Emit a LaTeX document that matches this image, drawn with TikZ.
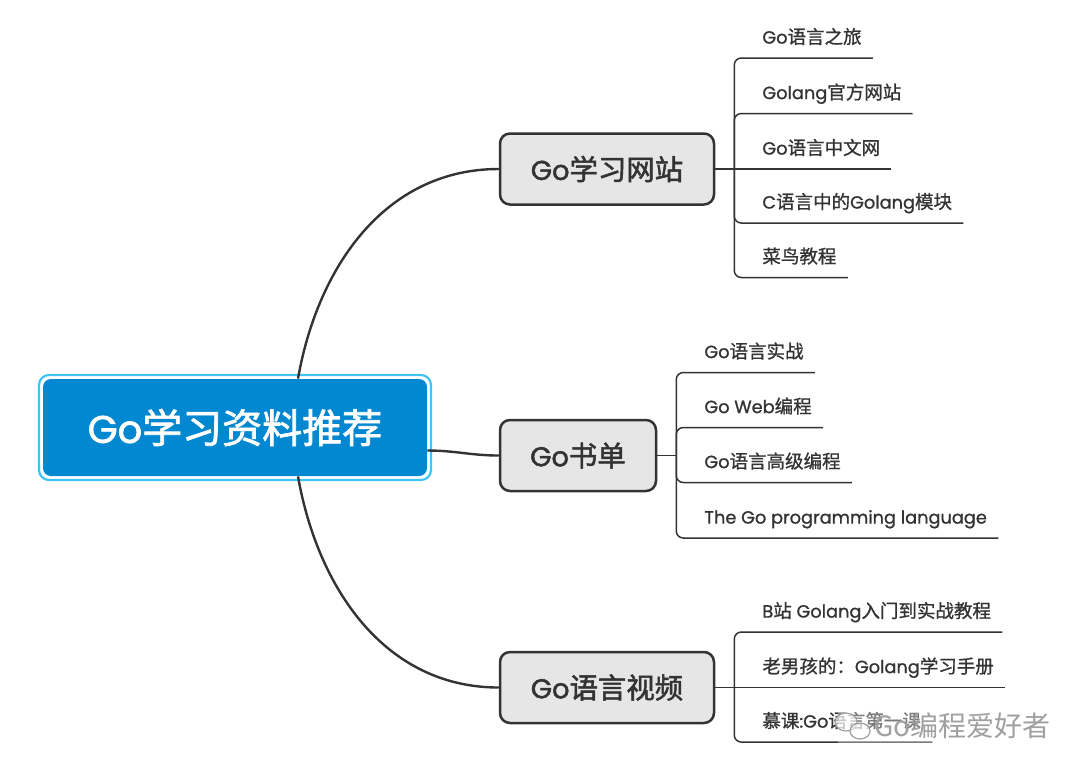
\documentclass[tikz,border=0pt]{standalone}
\usepackage{fontspec}
\setmainfont{Poppins}[Scale=0.96, FakeBold=1.0]
\newfontfamily\cjkfont{Noto Sans CJK SC}[FakeBold=1.0]
\newfontfamily\heavyfont{Poppins}[Scale=0.96, FakeBold=1.8]
\newfontfamily\heavyzh{Noto Sans CJK SC}[FakeBold=1.8]
\newfontfamily\markfont{Noto Sans CJK SC}
\newcommand{\zh}[1]{{\cjkfont #1}}
\newcommand{\heavy}{\heavyfont\let\cjkfont\heavyzh}
\usetikzlibrary{positioning}
\definecolor{rootblue}{HTML}{0288D1}
\definecolor{rootrim}{HTML}{40C4F8}
\definecolor{topicgray}{HTML}{E6E6E6}
\definecolor{inkgray}{HTML}{333333}
\definecolor{markgray}{HTML}{A0A0A0}
\tikzset{
  rootbox/.style={fill=rootblue, text=white, rounded corners=4pt, minimum width=192pt, minimum height=48.5pt, inner xsep=0pt, font=\heavy\fontsize{20}{24}\selectfont},
  topic/.style={fill=topicgray, draw=inkgray, line width=1.25pt, rounded corners=5pt, minimum height=35.5pt, inner xsep=0pt, text=inkgray, font=\heavy\fontsize{14.2}{17}\selectfont},
  leaf/.style={anchor=south west, inner xsep=5.5pt, inner ysep=7pt, text depth=0pt, text=inkgray, font=\fontsize{9.25}{11}\selectfont},
  stem/.style={draw=inkgray, line width=1.2pt},
  twig/.style={draw=inkgray, line width=0.75pt, rounded corners=3.5pt},
}

\begin{document}
\begin{tikzpicture}[x=0.5pt, y=-0.5pt]
  \useasboundingbox (0,0) rectangle (1080,773);

  % main topic
  \node[rootbox] (root) at (235,427.5) {Go\zh{学习资料推荐}};
  \draw[rootrim, line width=1.1pt, rounded corners=5pt] ([shift={(-1.8pt,-1.8pt)}]root.south west) rectangle ([shift={(1.8pt,1.8pt)}]root.north east);

  % sub topics
  \node[topic, minimum width=107pt] (web) at (607,169) {Go\zh{学习网站}};
  \node[topic, minimum width=78pt] (book) at (578,455.5) {Go\zh{书单}};
  \node[topic, minimum width=107pt] (video) at (607,687.5) {Go\zh{语言视频}};

  \draw[stem] ([xshift=31.5pt]root.north) to[out=80, in=180] (web.west);
  \draw[stem] ([yshift=-11.5pt]root.east) to[out=0, in=180] (book.west);
  \draw[stem] ([xshift=31.5pt]root.south) to[out=-80, in=180] (video.west);

  % junctions
  \coordinate (jweb) at ([xshift=9.5pt]web.east);
  \coordinate (jbook) at ([xshift=9.5pt]book.east);
  \coordinate (jvideo) at ([xshift=9.5pt]video.east);
  \draw[twig] (web.east) -- (jweb);
  \draw[twig] (book.east) -- (jbook);
  \draw[twig] (video.east) -- (jvideo);

  % websites
  \node[leaf] (w1) at (751,58) {Go\zh{语言之旅}};
  \node[leaf] (w2) at (751,113.5) {Golang\zh{官方网站}};
  \node[leaf] (w3) at (751,169) {Go\zh{语言中文网}};
  \node[leaf] (w4) at (751,223) {C\zh{语言中的}Golang\zh{模块}};
  \node[leaf] (w5) at (751,277.5) {\zh{菜鸟教程}};
  \draw[twig] (jweb) |- (w1.south east);
  \draw[twig] (jweb) |- (w2.south east);
  \draw[twig] (jweb) -- (w3.south east);
  \draw[twig] (jweb) |- (w4.south east);
  \draw[twig] (jweb) |- (w5.south east);

  % books
  \node[leaf] (k1) at (693,372.5) {Go\zh{语言实战}};
  \node[leaf] (k2) at (693,427.5) {Go Web\zh{编程}};
  \node[leaf] (k3) at (693,482.5) {Go\zh{语言高级编程}};
  \node[leaf] (k4) at (693,538) {The Go programming language};
  \draw[twig] (jbook) |- (k1.south east);
  \draw[twig] (jbook) |- (k2.south east);
  \draw[twig] (jbook) |- (k3.south east);
  \draw[twig] (jbook) |- (k4.south east);

  % videos
  \node[leaf] (v1) at (751,632) {B\zh{站} Golang\zh{入门到实战教程}};
  \node[leaf] (v2) at (751,687.5) {\zh{老男孩的：}Golang\zh{学习手册}};
  \node[leaf] (v3) at (751,742) {\zh{慕课}:Go\zh{语言第一课}};
  \draw[twig] (jvideo) |- (v1.south east);
  \draw[twig] (jvideo) -- (v2.south east);
  \draw[twig] (jvideo) |- (v3.south east);

  % watermark
  \fill[white, opacity=0.35] (838,708) rectangle (1048,745);
  \draw[markgray, line width=0.6pt, fill=white, fill opacity=0.6] (846,722) ellipse (11 and 9);
  \draw[markgray, line width=0.6pt, fill=white, fill opacity=0.6] (860,731) ellipse (10 and 8);
  \node[text=markgray, inner sep=0pt, anchor=west, font=\markfont\fontsize{14}{17}\selectfont] (mark) at (874,726) {Go编程爱好者};
\end{tikzpicture}
\end{document}
